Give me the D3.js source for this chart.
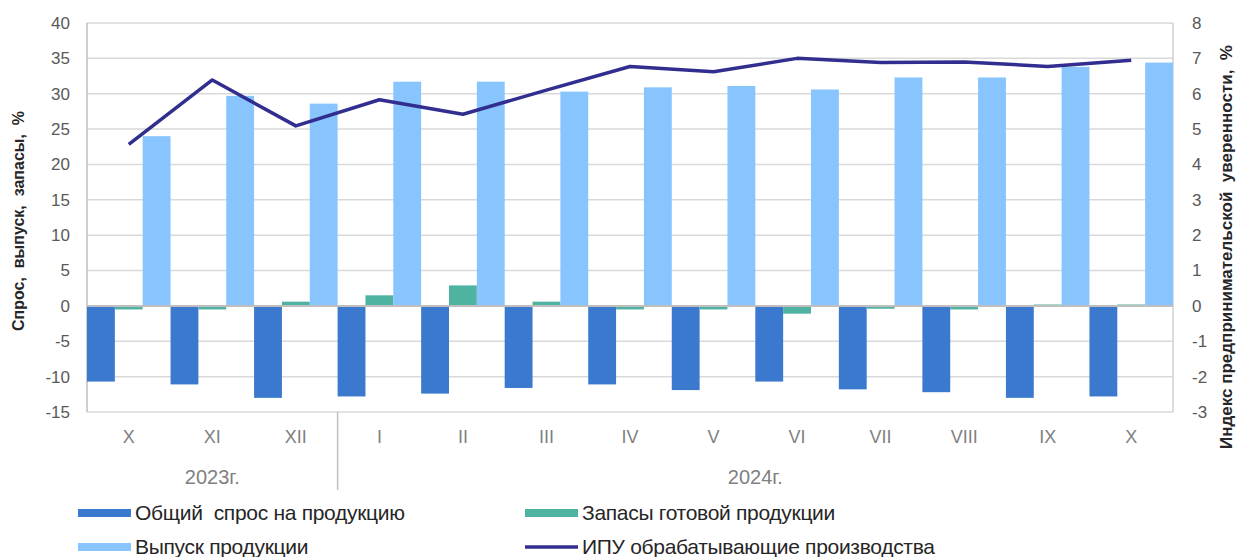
<!DOCTYPE html>
<html>
<head>
<meta charset="utf-8">
<script src="https://cdn.jsdelivr.net/npm/d3@7"></script>
<style>
  body { margin: 0; background: #fff; }
  text { font-family: "Liberation Sans", Arial, sans-serif; white-space: pre; }
</style>
</head>
<body>
<div id="chart"></div>
<script>
// months and year groups
const months = ["X", "XI", "XII", "I", "II", "III", "IV", "V", "VI", "VII", "VIII", "IX", "X"];
const years = [{label: "2023г.", from: 0, to: 2}, {label: "2024г.", from: 3, to: 12}];

// series values
const demand = [-10.7, -11.1, -13.0, -12.8, -12.4, -11.6, -11.1, -11.9, -10.7, -11.8, -12.2, -13.0, -12.8];
const stocks = [-0.5, -0.5, 0.6, 1.5, 2.9, 0.6, -0.5, -0.5, -1.1, -0.4, -0.5, 0.2, 0.2];
const output = [24.0, 29.7, 28.6, 31.7, 31.7, 30.3, 30.9, 31.1, 30.6, 32.3, 32.3, 33.8, 34.4];
const ipu = [4.57, 6.39, 5.09, 5.83, 5.42, 6.1, 6.77, 6.62, 7.0, 6.88, 6.9, 6.77, 6.95];

const leftTicks = [40, 35, 30, 25, 20, 15, 10, 5, 0, -5, -10, -15];
const rightTicks = [8, 7, 6, 5, 4, 3, 2, 1, 0, -1, -2, -3];

const seriesNames = ["Общий  спрос на продукцию", "Запасы готовой продукции", "Выпуск продукции", "ИПУ обрабатывающие производства"];
const colors = ["#3b79cf", "#4fb3a1", "#88c5fe", "#312e8f"];

const W = 1245, H = 557;
const margin = {top: 23, right: 72, bottom: 145, left: 87};
const width = W - margin.left - margin.right,
      height = H - margin.top - margin.bottom;

const svg = d3.select('#chart').append('svg')
  .attr('width', W)
  .attr('height', H);

const g = svg.append('g')
  .attr('transform', `translate(${margin.left},${margin.top})`);

const x = d3.scaleBand()
  .domain(d3.range(months.length))
  .range([0, width])
  .padding(0);

const xInner = d3.scaleBand()
  .domain([0, 1, 2])
  .range([0, x.bandwidth()])
  .padding(0);

const y = d3.scaleLinear().domain([-15, 40]).range([height, 0]);
const y2 = d3.scaleLinear().domain([-3, 8]).range([height, 0]);

// gridlines
g.selectAll('.grid')
  .data(leftTicks.filter(d => d !== 0))
  .enter().append('line')
    .attr('x1', 0).attr('x2', width)
    .attr('y1', d => y(d)).attr('y2', d => y(d))
    .attr('stroke', '#d9d9d9')
    .attr('stroke-width', 1.5);

// vertical frame lines
g.append('line').attr('x1', 0).attr('x2', 0).attr('y1', 0).attr('y2', height)
  .attr('stroke', '#bfbfbf').attr('stroke-width', 1.5);
g.append('line').attr('x1', width).attr('x2', width).attr('y1', 0).attr('y2', height)
  .attr('stroke', '#d0d0d0').attr('stroke-width', 1.5);

// bars
const barSeries = [demand, stocks, output];
barSeries.forEach(function(vals, si) {
  g.selectAll('.bar' + si)
    .data(vals)
    .enter().append('rect')
      .attr('x', (d, i) => x(i) + xInner(si))
      .attr('width', xInner.bandwidth())
      .attr('y', d => y(Math.max(0, d)))
      .attr('height', d => Math.abs(y(d) - y(0)))
      .attr('fill', colors[si]);
});

// zero line
g.append('line')
  .attr('x1', 0).attr('x2', width)
  .attr('y1', y(0)).attr('y2', y(0))
  .attr('stroke', '#bfbfbf')
  .attr('stroke-width', 2);

// IPU line
const line = d3.line()
  .x((d, i) => x(i) + x.bandwidth() / 2)
  .y(d => y2(d));

g.append('path')
  .datum(ipu)
  .attr('d', line)
  .attr('fill', 'none')
  .attr('stroke', colors[3])
  .attr('stroke-width', 3.5)
  .attr('stroke-linejoin', 'round');

// left axis labels (plain hyphen for minus, as in the original)
const leftAxis = d3.axisLeft(y).tickValues(leftTicks).tickSize(0).tickPadding(17)
  .tickFormat(d => String(d));
g.append('g').call(leftAxis)
  .call(a => a.select('.domain').remove())
  .selectAll('text')
    .attr('fill', '#595959')
    .style('font-size', '17px');

// right axis labels
const rightAxis = d3.axisRight(y2).tickValues(rightTicks).tickSize(0).tickPadding(19)
  .tickFormat(d => String(d));
g.append('g').attr('transform', `translate(${width},0)`).call(rightAxis)
  .call(a => a.select('.domain').remove())
  .selectAll('text')
    .attr('fill', '#595959')
    .style('font-size', '17px');

// month labels
g.selectAll('.month')
  .data(months)
  .enter().append('text')
    .attr('x', (d, i) => x(i) + x.bandwidth() / 2)
    .attr('y', height + 31)
    .attr('text-anchor', 'middle')
    .attr('fill', '#808080')
    .style('font-size', '18px')
    .text(d => d);

// year labels
g.selectAll('.year')
  .data(years)
  .enter().append('text')
    .attr('x', d => (x(d.from) + x(d.to) + x.bandwidth()) / 2)
    .attr('y', height + 72)
    .attr('text-anchor', 'middle')
    .attr('fill', '#808080')
    .style('font-size', '20px')
    .text(d => d.label);

// year separator
g.append('line')
  .attr('x1', x(3)).attr('x2', x(3))
  .attr('y1', height).attr('y2', height + 78)
  .attr('stroke', '#bfbfbf')
  .attr('stroke-width', 1.5);

// axis titles
svg.append('text')
  .attr('transform', `translate(24,221) rotate(-90)`)
  .attr('text-anchor', 'middle')
  .attr('fill', '#262626')
  .style('font-size', '16px')
  .style('font-weight', 'bold')
  .text('Спрос,  выпуск,  запасы,  %');

svg.append('text')
  .attr('transform', `translate(1232,247) rotate(-90)`)
  .attr('text-anchor', 'middle')
  .attr('fill', '#262626')
  .style('font-size', '17px')
  .style('font-weight', 'bold')
  .text('Индекс предпринимательской  уверенности,  %');

// legend
const legendPos = [[78, 513], [525, 513], [78, 547], [525, 547]];
const lg = svg.append('g');
[0, 1, 2, 3].forEach(function(si, k) {
  const p = legendPos[k];
  if (si === 3) {
    lg.append('line')
      .attr('x1', p[0]).attr('x2', p[0] + 53)
      .attr('y1', p[1]).attr('y2', p[1])
      .attr('stroke', colors[si])
      .attr('stroke-width', 3.5);
  } else {
    lg.append('rect')
      .attr('x', p[0]).attr('y', p[1] - 4)
      .attr('width', 53).attr('height', 8)
      .attr('fill', colors[si]);
  }
  lg.append('text')
    .attr('x', p[0] + 57)
    .attr('y', p[1] + 7)
    .attr('fill', '#262626')
    .style('font-size', '21px')
    .style('letter-spacing', '-0.3px')
    .text(seriesNames[si]);
});
</script>
</body>
</html>
